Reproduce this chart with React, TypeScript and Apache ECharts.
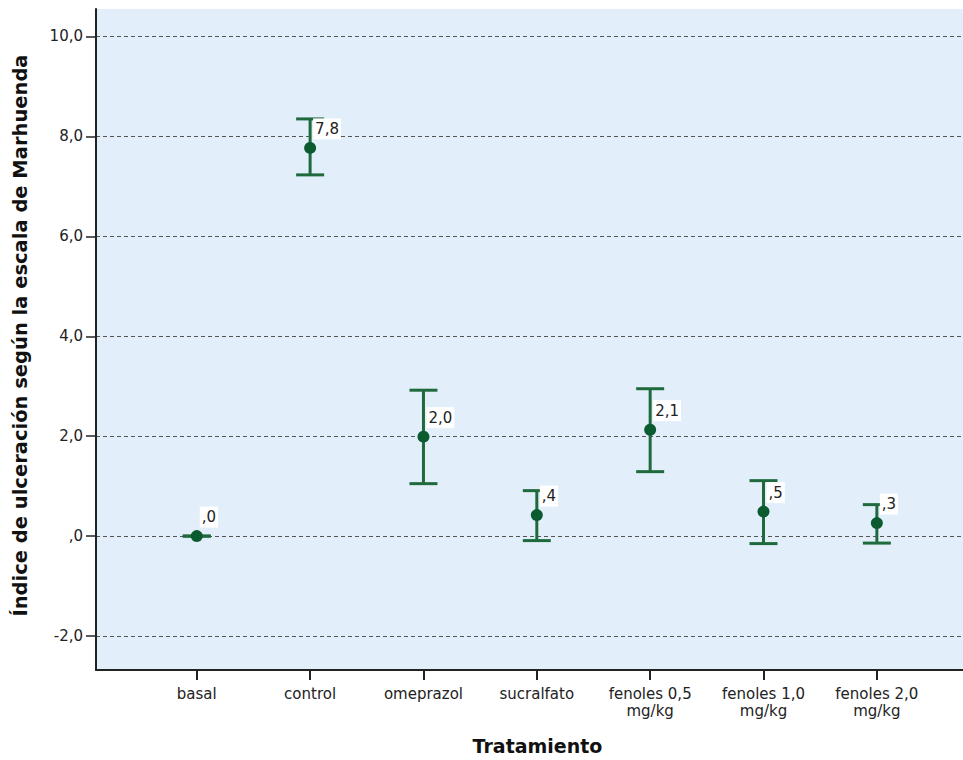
import React, { useEffect, useRef } from "react";
import * as echarts from "echarts";

const categories = ["basal", "control", "omeprazol", "sucralfato", "fenoles 0,5\nmg/kg", "fenoles 1,0\nmg/kg", "fenoles 2,0\nmg/kg"];
const means = [0.0, 7.77, 1.99, 0.42, 2.13, 0.49, 0.26];
const lower = [0.0, 7.23, 1.05, -0.09, 1.29, -0.15, -0.14];
const upper = [0.0, 8.35, 2.92, 0.91, 2.95, 1.11, 0.63];
const yTicks = [-2, 0, 2, 4, 6, 8, 10];

const fmt = (v: number) => {
  let s = v.toFixed(1).replace(".", ",");
  if (s.startsWith("0,")) s = s.slice(1);
  else if (s.startsWith("-0,")) s = "-" + s.slice(2);
  if (s === "-,0") s = ",0";
  return s;
};

const FONT = "'DejaVu Sans', Verdana, sans-serif";
const BAR = "#1f6a3c";
const DOT = "#0c5a30";

export default function App() {
  const ref = useRef<HTMLDivElement>(null);
  useEffect(() => {
    const chart = echarts.init(ref.current!, null, { renderer: "svg" });
    const idx = categories.map((_, i) => i);
    chart.setOption({
      animation: false,
      backgroundColor: "#ffffff",
      textStyle: { fontFamily: FONT },
      grid: { left: 96, top: 9, right: 0, bottom: 90, show: true, backgroundColor: "#e2eefa", borderWidth: 0 },
      xAxis: {
        type: "value",
        min: -0.889,
        max: 6.76,
        name: "Tratamiento",
        nameLocation: "middle",
        nameGap: 66,
        nameTextStyle: { fontSize: 19, fontWeight: "bold", color: "#111", fontFamily: FONT, padding: [0, 0, 0, 16] },
        axisLine: { show: true, onZero: false, lineStyle: { color: "#222", width: 2 } },
        axisTick: { show: true, length: 10, lineStyle: { color: "#222", width: 2 }, customValues: idx },
        axisLabel: {
          customValues: idx,
          formatter: (v: number) => categories[Math.round(v)] ?? "",
          fontSize: 15,
          lineHeight: 17,
          color: "#222",
          margin: 15,
          fontFamily: FONT,
        },
        splitLine: { show: false },
      },
      yAxis: {
        type: "value",
        min: -2.68,
        max: 10.55,
        name: "Índice de ulceración según la escala de Marhuenda",
        nameLocation: "middle",
        nameGap: 66,
        nameTextStyle: { fontSize: 19.5, fontWeight: "bold", color: "#111", fontFamily: FONT, padding: [0, 0, 0, 8] },
        axisLine: { show: true, onZero: false, lineStyle: { color: "#222", width: 2 } },
        axisTick: { show: true, length: 10, lineStyle: { color: "#222", width: 1.5 }, customValues: yTicks },
        axisLabel: { customValues: yTicks, formatter: (v: number) => fmt(v), fontSize: 15, color: "#222", margin: 13, fontFamily: FONT },
        splitLine: { show: true, lineStyle: { color: "#555", width: 1, type: [4, 3] } },
      },
      series: [
        {
          type: "custom",
          data: idx.map((i) => [i, lower[i], upper[i]]),
          renderItem: (params: any, api: any) => {
            const x = api.value(0);
            const lo = api.coord([x, api.value(1)]);
            const hi = api.coord([x, api.value(2)]);
            const hw = 14;
            const style = { stroke: BAR, lineWidth: 3, fill: "none" };
            return {
              type: "group",
              children: [
                { type: "line", shape: { x1: lo[0], y1: lo[1], x2: hi[0], y2: hi[1] }, style },
                { type: "line", shape: { x1: lo[0] - hw, y1: lo[1], x2: lo[0] + hw, y2: lo[1] }, style },
                { type: "line", shape: { x1: hi[0] - hw, y1: hi[1], x2: hi[0] + hw, y2: hi[1] }, style },
              ],
            };
          },
          z: 3,
        },
        {
          type: "scatter",
          data: idx.map((i) => [i, means[i]]),
          symbolSize: 12,
          itemStyle: { color: DOT, opacity: 1 },
          z: 4,
          label: {
            show: true,
            position: "right",
            distance: 0,
            offset: [-3, -19],
            formatter: (p: any) => fmt(p.value[1]),
            fontSize: 15,
            color: "#222",
            backgroundColor: "#ffffff",
            padding: [3, 2, 3, 2],
            fontFamily: FONT,
          },
        },
      ],
    });
    return () => chart.dispose();
  }, []);
  return <div ref={ref} style={{ position: "absolute", left: 0, top: 0, width: 963, height: 760 }} />;
}
